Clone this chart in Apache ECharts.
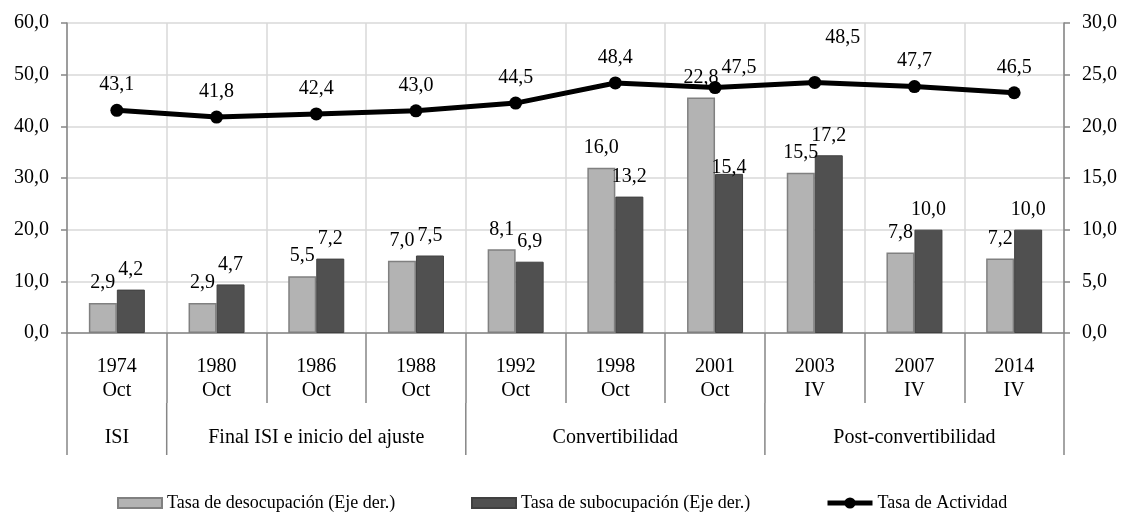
<!DOCTYPE html>
<html><head><meta charset="utf-8">
<script src="https://cdn.jsdelivr.net/npm/echarts@6/dist/echarts.min.js"></script>
<style>html,body{margin:0;padding:0;background:#fff}#c{width:1121px;height:516px}</style>
</head><body><div id="c"></div>
<script>
const years = ['1974','1980','1986','1988','1992','1998','2001','2003','2007','2014'];
const periods = ['Oct','Oct','Oct','Oct','Oct','Oct','Oct','IV','IV','IV'];
const groupNames = ['ISI','Final ISI e inicio del ajuste','Convertibilidad','Post-convertibilidad'];
const groupSizes = [1,3,3,3];
const desocupacion = [2.9,2.9,5.5,7.0,8.1,16.0,22.8,15.5,7.8,7.2];
const subocupacion = [4.2,4.7,7.2,7.5,6.9,13.2,15.4,17.2,10.0,10.0];
const actividad = [43.1,41.8,42.4,43.0,44.5,48.4,47.5,48.5,47.7,46.5];
const seriesNames = ['Tasa de desocupación (Eje der.)','Tasa de subocupación (Eje der.)','Tasa de Actividad'];

const FONT = 'Liberation Serif';
const fmt = v => Number(v).toFixed(1).replace('.', ',');
const categories = years.map((y, i) => y + '\n' + periods[i]);

// group boundaries and label positions
const groupBounds = [];
const groupLabelAt = {};
let acc = 0;
groupSizes.forEach((s, g) => {
  groupBounds.push(acc);
  groupLabelAt[acc + Math.floor(s / 2)] = groupNames[g];
  acc += s;
});
groupBounds.push(acc);

// manual label adjustments (as in the original)
const lineLabelOffset = {6: [24, 6], 7: [28, -19]};
const subLabelOffset = {6: [0, 14]};

const lineData = actividad.map((v, i) => lineLabelOffset[i] ? {value: v, label: {offset: lineLabelOffset[i]}} : v);
const subData = subocupacion.map((v, i) => subLabelOffset[i] ? {value: v, label: {offset: subLabelOffset[i]}} : v);

const axisGray = '#868686';
const gridGray = '#d9d9d9';
const FS = 20;
const legTxt = {fontFamily: FONT, color: '#000', fontSize: 18};
const TICK1 = 70, TICK2 = 52;

const chart = echarts.init(document.getElementById('c'), null, {renderer: 'canvas'});
chart.setOption({
  animation: false,
  backgroundColor: '#fff',
  textStyle: {fontFamily: FONT, color: '#000'},
  grid: {left: 67, right: 57, top: 23, bottom: 183, containLabel: false},
  legend: [
    {data: [seriesNames[0]], left: 117, top: 494, padding: 0, itemWidth: 44, itemHeight: 10, itemGap: 3, textStyle: legTxt, icon: 'rect'},
    {data: [seriesNames[1]], left: 471, top: 494, padding: 0, itemWidth: 44, itemHeight: 10, itemGap: 3, textStyle: legTxt, icon: 'rect'},
    {data: [seriesNames[2]], left: 825, top: 494, padding: 0, itemWidth: 45, itemHeight: 14, itemGap: 3, textStyle: legTxt,
     lineStyle: {width: 5, color: '#000'}, itemStyle: {color: '#000'}}
  ],
  xAxis: [
    {
      type: 'category', data: categories, position: 'bottom',
      axisLine: {show: true, lineStyle: {color: axisGray, width: 1.5}},
      axisTick: {show: true, interval: 0, length: TICK1, lineStyle: {color: axisGray, width: 1.5}},
      axisLabel: {interval: 0, margin: 22, fontFamily: FONT, fontSize: FS, color: '#000', lineHeight: 24},
      splitLine: {show: true, interval: 0, lineStyle: {color: gridGray, width: 1.5}}
    },
    {
      type: 'category', data: categories, position: 'bottom', offset: TICK1,
      axisLine: {show: false},
      axisTick: {show: false},
      axisLabel: {interval: 0, margin: 25, fontFamily: FONT, fontSize: FS, color: '#000',
        formatter: (v, i) => groupLabelAt[i] || ''},
      splitLine: {show: false}
    }
  ],
  yAxis: [
    {
      type: 'value', min: 0, max: 60, interval: 10, position: 'left',
      axisLine: {show: true, lineStyle: {color: axisGray, width: 1.5}},
      axisTick: {show: true, length: 6, lineStyle: {color: axisGray, width: 1.5}},
      axisLabel: {margin: 18, formatter: fmt, fontFamily: FONT, fontSize: FS, color: '#000'},
      splitLine: {show: true, lineStyle: {color: gridGray, width: 1.5}}
    },
    {
      type: 'value', min: 0, max: 30, interval: 5, position: 'right',
      axisLine: {show: true, lineStyle: {color: axisGray, width: 1.5}},
      axisTick: {show: true, length: 6, lineStyle: {color: axisGray, width: 1.5}},
      axisLabel: {margin: 18, formatter: fmt, fontFamily: FONT, fontSize: FS, color: '#000'},
      splitLine: {show: false}
    }
  ],
  series: [
    {
      name: seriesNames[0], type: 'bar', yAxisIndex: 1, xAxisIndex: 0, data: desocupacion,
      barWidth: 28, barGap: '0%',
      itemStyle: {color: '#b3b3b3', borderColor: '#808080', borderWidth: 1.5},
      label: {show: true, position: 'top', distance: 10, formatter: p => fmt(p.value), fontFamily: FONT, fontSize: FS, color: '#000'}
    },
    {
      name: seriesNames[1], type: 'bar', yAxisIndex: 1, xAxisIndex: 0, data: subData,
      barWidth: 28, barGap: '0%',
      itemStyle: {color: '#505050', borderColor: '#404040', borderWidth: 1},
      label: {show: true, position: 'top', distance: 10, formatter: p => fmt(p.value), fontFamily: FONT, fontSize: FS, color: '#000'}
    },
    {
      name: seriesNames[2], type: 'line', yAxisIndex: 0, xAxisIndex: 0, data: lineData,
      symbol: 'circle', symbolSize: 13, z: 5,
      itemStyle: {color: '#000'},
      lineStyle: {color: '#000', width: 5},
      label: {show: true, position: 'top', distance: 9, formatter: p => fmt(p.value), fontFamily: FONT, fontSize: FS, color: '#000'}
    }
  ]
});

// group separators below the category ticks, placed through the axis scale
const c0 = chart.convertToPixel({xAxisIndex: 0}, 0);
const c1 = chart.convertToPixel({xAxisIndex: 0}, 1);
const band = c1 - c0;
const y0 = chart.convertToPixel({yAxisIndex: 0}, 0);
const sepLines = groupBounds.map(b => {
  const x = chart.convertToPixel({xAxisIndex: 0}, Math.min(b, categories.length - 1)) + (b < categories.length ? -band / 2 : band / 2);
  return {type: 'line', silent: true, shape: {x1: x, y1: y0 + TICK1, x2: x, y2: y0 + TICK1 + TICK2},
          style: {stroke: axisGray, lineWidth: 1.5}};
});
chart.setOption({graphic: sepLines});
</script>
</body></html>
